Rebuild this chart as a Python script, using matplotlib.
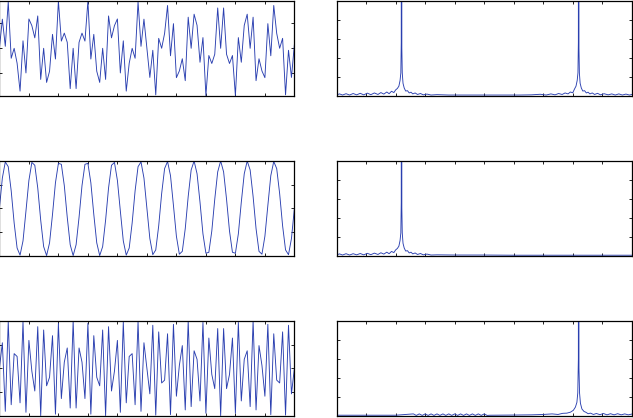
import numpy as np
import matplotlib
matplotlib.use('Agg')
import matplotlib.pyplot as plt

# ---- time-domain samples (101 samples, t = 0 .. 1 s) ----
sig_sum = [0.00, 1.17, 0.08, 1.87, -0.40, 0.00, -0.60, -1.72, 0.30, -0.99,
           1.18, 0.91, 0.42, 1.30, -1.25, 0.00, -1.37, -0.92, 0.56, -0.43,
           1.90, 0.29, 0.61, 0.24, -1.62, 0.00, -1.62, 0.24, 0.61, 0.29,
           1.90, -0.43, 0.56, -0.92, -1.37, 0.00, -1.25, 1.30, 0.42, 0.91,
           1.18, -0.99, 0.30, -1.72, -0.60, 0.00, -0.40, 1.87, 0.08, 1.17,
           0.00,
           -1.17, -0.08, -1.87, 0.40, 0.00, 0.60, 1.72, -0.30, 0.99,
           -1.18, -0.91, -0.42, -1.30, 1.25, 0.00, 1.37, 0.92, -0.56, 0.43,
           -1.90, -0.29, -0.61, -0.24, 1.62, 0.00, 1.62, -0.24, -0.61, -0.29,
           -1.90, 0.43, -0.56, 0.92, 1.37, 0.00, 1.25, -1.30, -0.42, -0.91,
           -1.18, 0.99, -0.30, 1.72, 0.60, 0.00, 0.40, -1.87, -0.08, -1.17,
           0.15]

sig_low = [0.00, 0.64, 0.98, 0.88, 0.37, -0.31, -0.84, -0.99, -0.69, -0.06,
           0.59, 0.97, 0.91, 0.43, -0.25, -0.81, -1.00, -0.73, -0.13, 0.54,
           0.95, 0.93, 0.48, -0.19, -0.77, -1.00, -0.77, -0.19, 0.48, 0.93,
           0.95, 0.54, -0.13, -0.73, -1.00, -0.81, -0.25, 0.43, 0.91, 0.97,
           0.59, -0.06, -0.69, -0.99, -0.84, -0.31, 0.37, 0.88, 0.98, 0.64,
           0.00,
           -0.64, -0.98, -0.88, -0.37, 0.31, 0.84, 0.99, 0.69, 0.06,
           -0.59, -0.97, -0.91, -0.43, 0.25, 0.81, 1.00, 0.73, 0.13, -0.54,
           -0.95, -0.93, -0.48, 0.19, 0.77, 1.00, 0.77, 0.19, -0.48, -0.93,
           -0.95, -0.54, 0.13, 0.73, 1.00, 0.81, 0.25, -0.43, -0.91, -0.97,
           -0.59, 0.06, 0.69, 0.99, 0.84, 0.31, -0.37, -0.88, -0.98, -0.64,
           0.00]

sig_high = [0.00, 0.54, -0.91, 0.99, -0.77, 0.31, 0.25, -0.73, 0.98, -0.93,
            0.59, -0.06, -0.48, 0.88, -1.00, 0.81, -0.37, -0.19, 0.69, -0.97,
            0.95, -0.64, 0.13, 0.43, -0.84, 1.00, -0.84, 0.43, 0.13, -0.64,
            0.95, -0.97, 0.69, -0.19, -0.37, 0.81, -1.00, 0.88, -0.48, -0.06,
            0.59, -0.93, 0.98, -0.73, 0.25, 0.31, -0.77, 0.99, -0.91, 0.54,
            0.00,
            -0.54, 0.91, -0.99, 0.77, -0.31, -0.25, 0.73, -0.98, 0.93,
            -0.59, 0.06, 0.48, -0.88, 1.00, -0.81, 0.37, 0.19, -0.69, 0.97,
            -0.95, 0.64, -0.13, -0.43, 0.84, -1.00, 0.84, -0.43, -0.13, 0.64,
            -0.95, 0.97, -0.69, 0.19, 0.37, -0.81, 1.00, -0.88, 0.48, 0.06,
            -0.59, 0.93, -0.98, 0.73, -0.25, -0.31, 0.77, -0.99, 0.91, -0.54,
            0.00]

time_s = np.linspace(0.0, 1.0, len(sig_sum))

# ---- magnitude spectra (frequency in Hz, 0 .. 50) ----
spec1_freq = [0, 0.5, 1.0, 1.6, 2.2, 2.8, 3.4, 4.0, 4.6, 5.2,
              5.8, 6.4, 7.0, 7.5, 8.0, 8.5, 8.9, 9.3, 9.7, 10.0,
              10.3, 10.55, 10.75, 10.88, 10.95, 11.0, 11.05, 11.12, 11.25, 11.45,
              11.7, 12.0, 12.3, 12.6, 12.9, 13.3, 13.7, 14.2, 14.7, 15.3,
              16, 17, 19, 22, 25, 28, 31, 33, 34.5, 35.5,
              36.3, 37.0, 37.6, 38.2, 38.7, 39.2, 39.6, 40.0, 40.3, 40.55,
              40.75, 40.88, 40.95, 41.0, 41.05, 41.12, 41.25, 41.45, 41.7, 42.0,
              42.3, 42.6, 42.9, 43.3, 43.7, 44.2, 44.7, 45.3, 46.0, 46.6,
              47.2, 47.8, 48.4, 49.0, 49.6, 50]
spec1_mag = [0.4, 0.9, 0.3, 1.0, 0.3, 1.1, 0.4, 1.2, 0.4, 1.3,
             0.5, 1.4, 0.6, 1.6, 0.8, 1.9, 1.0, 2.3, 1.6, 3.0,
             3.8, 5.0, 8.0, 12.0, 28.0, 300.0, 25.0, 12.0, 6.5, 4.0,
             2.4, 2.6, 1.4, 1.8, 0.9, 1.4, 0.6, 1.1, 0.4, 0.8,
             0.3, 0.5, 0.3, 0.3, 0.3, 0.3, 0.3, 0.4, 0.7, 0.3,
             0.9, 0.4, 1.1, 0.6, 1.4, 0.9, 1.9, 1.5, 3.5, 5.0,
             8.0, 12.0, 28.0, 300.0, 25.0, 12.0, 6.5, 4.0, 2.4, 2.6,
             1.4, 1.8, 0.9, 1.4, 0.6, 1.2, 0.4, 1.0, 0.4, 0.9,
             0.3, 0.9, 0.3, 0.8, 0.3, 0.6]

spec2_freq = [0, 0.5, 1.0, 1.6, 2.2, 2.8, 3.4, 4.0, 4.6, 5.2,
              5.8, 6.4, 7.0, 7.5, 8.0, 8.5, 8.9, 9.3, 9.7, 10.0,
              10.3, 10.55, 10.75, 10.88, 10.95, 11.0, 11.05, 11.12, 11.25, 11.45,
              11.7, 12.0, 12.3, 12.6, 12.9, 13.3, 13.7, 14.2, 14.7, 15.3,
              16, 17, 20, 25, 30, 35, 40, 45, 50]
spec2_mag = [0.4, 0.9, 0.3, 1.0, 0.3, 1.0, 0.4, 1.1, 0.4, 1.2,
             0.5, 1.3, 0.6, 1.5, 0.8, 1.8, 1.0, 2.2, 1.6, 3.0,
             3.8, 5.0, 8.0, 12.0, 28.0, 300.0, 25.0, 12.0, 6.5, 4.0,
             2.4, 2.6, 1.4, 1.8, 0.9, 1.4, 0.6, 1.1, 0.4, 0.8,
             0.3, 0.4, 0.3, 0.3, 0.2, 0.2, 0.2, 0.2, 0.2]

spec3_freq = [0, 5, 10, 13.0, 13.5, 14.0, 14.5, 15.0, 15.5, 16.0,
              16.5, 17.0, 17.5, 18.0, 18.5, 19.0, 19.5, 20.0, 20.5, 21.0,
              21.5, 22.0, 22.5, 23.0, 23.5, 24.0, 24.5, 25.0, 25.5, 26.0,
              30, 33, 35, 36.5, 37.5, 38.3, 39.0, 39.6, 40.1, 40.45,
              40.7, 40.85, 40.95, 41.0, 41.05, 41.15, 41.3, 41.55, 41.9, 42.2,
              42.6, 43.0, 43.5, 44.0, 44.6, 45.2, 45.8, 46.4, 47.0, 47.6,
              48.2, 48.8, 49.4, 50]
spec3_mag = [0.2, 0.2, 0.2, 0.9, 0.1, 0.9, 0.1, 0.9, 0.1, 0.9,
             0.1, 0.9, 0.1, 0.9, 0.1, 0.9, 0.1, 0.9, 0.1, 0.9,
             0.1, 0.9, 0.1, 0.9, 0.1, 0.9, 0.1, 0.9, 0.1, 0.2,
             0.3, 0.4, 0.6, 0.9, 0.6, 1.2, 1.3, 1.8, 2.8, 4.5,
             7.0, 12.0, 30.0, 300.0, 25.0, 12.0, 6.5, 3.5, 2.2, 1.8,
             1.0, 1.3, 0.6, 1.1, 0.5, 1.1, 0.4, 1.0, 0.4, 1.0,
             0.4, 0.9, 0.4, 0.8]

time_ticks = [0.0, 0.1, 0.2, 0.3, 0.4, 0.5, 0.6, 0.7, 0.8, 0.9, 1.0]
freq_ticks = [0, 5, 10, 15, 20, 25, 30, 35, 40, 45, 50]
mag_ticks = [0, 10, 20, 30, 40, 50]

LINE = '#2a3fb0'
W, H = 633.0, 418.0

fig = plt.figure(figsize=(6.33, 4.18), dpi=100)
fig.patch.set_facecolor('white')

rows_top_px = [1.0, 161.0, 321.0]
row_h_px = 94.6
left_x = (-0.6, 295.0)
right_x = (336.6, 295.2)


def style(ax):
    ax.tick_params(direction='in', length=2.4, width=0.6, top=True, right=True,
                   labelbottom=False, labelleft=False, color='black')
    for s in ax.spines.values():
        s.set_linewidth(0.9)
        s.set_color('black')


time_data = [(sig_sum, (-1.9, 1.9), [-1, 0, 1]),
             (sig_low, (-1.0, 1.0), [-1, -0.5, 0, 0.5, 1]),
             (sig_high, (-1.0, 1.0), [-1, -0.5, 0, 0.5, 1])]
spec_data = [(spec1_freq, spec1_mag), (spec2_freq, spec2_mag), (spec3_freq, spec3_mag)]

for r in range(3):
    b = 1 - (rows_top_px[r] + row_h_px) / H
    h = row_h_px / H
    axl = fig.add_axes([left_x[0] / W, b, left_x[1] / W, h])
    sig, yl, yt = time_data[r]
    axl.plot(time_s, sig, color=LINE, lw=0.65)
    axl.set_xlim(0, 1)
    axl.set_ylim(*yl)
    axl.set_xticks(time_ticks)
    axl.set_yticks(yt)
    style(axl)

    axr = fig.add_axes([right_x[0] / W, b, right_x[1] / W, h])
    f, m = spec_data[r]
    axr.plot(f, m, color=LINE, lw=0.65)
    axr.set_xlim(0, 50)
    axr.set_ylim(0, 50)
    axr.set_xticks(freq_ticks)
    axr.set_yticks(mag_ticks)
    style(axr)

fig.savefig('out.png', dpi=100, facecolor='white')
